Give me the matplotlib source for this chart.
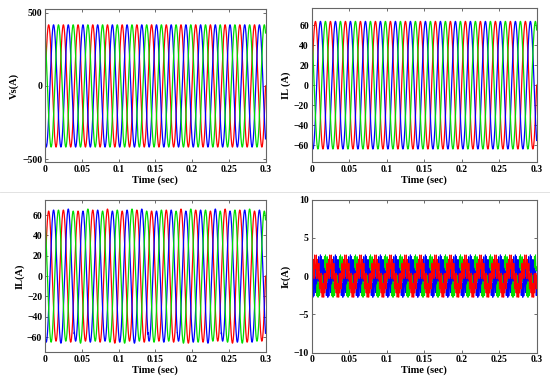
import numpy as np
import matplotlib
matplotlib.use("Agg")
import matplotlib.pyplot as plt
from matplotlib.lines import Line2D

plt.rcParams['font.family'] = ['Liberation Serif', 'DejaVu Serif']
plt.rcParams['font.weight'] = 'bold'

# signal data
freq = 50.0                      # Hz, 15 cycles in 0.3 s
t_end = 0.3
phase_deg = [0, -120, 120]       # red, blue, green order of phases
colors = ['#ff0000', '#0000ff', '#00dd00']

vs_amp = [418, 418, 418]
il_amp = [64, 64, 64]
# per-cycle peaks of the lower load current (15 cycles)
il2_peaks = [
    [64, 65, 64, 65, 66, 64, 65, 64, 65, 66, 65, 64, 66, 65, 64],
    [65, 66, 64, 65, 64, 65, 66, 64, 65, 64, 65, 66, 64, 65, 65],
    [65, 64, 66, 64, 65, 66, 64, 65, 64, 66, 65, 64, 65, 66, 64],
]
ic_fund = [1.5, 1.5, 1.5]        # fundamental of compensating current
ic_ripple_a = [0.9, 0.9, 0.9]    # switching ripple, first component
ic_ripple_b = [0.7, 0.7, 0.7]    # switching ripple, second component
ripple_freq_a = 550.0
ripple_freq_b = 850.0

t = np.linspace(0, t_end, 12000)
w = 2 * np.pi * freq


def phase_wave(amp, k):
    return amp * np.sin(w * t + np.deg2rad(phase_deg[k]))


def style(ax, ylim, yticks, ylabel):
    ax.set_xlim(0, t_end)
    ax.set_ylim(*ylim)
    ax.set_xticks([0, 0.05, 0.1, 0.15, 0.2, 0.25, 0.3])
    ax.set_xticklabels(['0', '0.05', '0.1', '0.15', '0.2', '0.25', '0.3'])
    ax.set_yticks(yticks)
    ax.tick_params(direction='in', length=2.5, width=0.6, labelsize=7,
                   top=True, right=True, colors='#555555', labelcolor='black', pad=2)
    for s in ax.spines.values():
        s.set_color('#666666')
        s.set_linewidth(0.8)
    ax.set_xlabel('Time (sec)', fontsize=7.5, fontweight='bold', labelpad=1)
    ax.set_ylabel(ylabel, fontsize=7.5, fontweight='bold', labelpad=2)


fig = plt.figure(figsize=(5.5, 3.82), dpi=100)
ax1 = fig.add_axes([0.0818, 0.576, 0.401, 0.400])
ax2 = fig.add_axes([0.5667, 0.576, 0.409, 0.402])
ax3 = fig.add_axes([0.0818, 0.0777, 0.401, 0.399])
ax4 = fig.add_axes([0.5667, 0.0772, 0.409, 0.400])

cycle = np.minimum((t * freq).astype(int), 14)
for k in range(3):
    ax1.plot(t, phase_wave(vs_amp[k], k), color=colors[k], lw=0.9)
    ax2.plot(t, phase_wave(il_amp[k], k), color=colors[k], lw=0.9)
    amp = np.array(il2_peaks[k])[cycle]
    ax3.plot(t, phase_wave(amp, k), color=colors[k], lw=0.9)

for k in [2, 1, 0]:
    ph = np.deg2rad(phase_deg[k])
    fund = ic_fund[k] * np.sin(w * t + ph)
    rip = (ic_ripple_a[k] * np.sin(2 * np.pi * ripple_freq_a * t + 3 * ph)
           + ic_ripple_b[k] * np.sin(2 * np.pi * ripple_freq_b * t + 5 * ph))
    ax4.plot(t, fund + rip, color=colors[k], lw=0.7)

style(ax1, (-520, 525), [-500, 0, 500], 'Vs(A)')
style(ax2, (-77, 77), [-60, -40, -20, 0, 20, 40, 60], 'IL (A)')
style(ax3, (-75, 75), [-60, -40, -20, 0, 20, 40, 60], 'IL(A)')
style(ax4, (-10, 10), [-10, -5, 0, 5, 10], 'Ic(A)')

# faint separator between the two rows
fig.add_artist(Line2D([0, 1], [1 - 192 / 382, 1 - 192 / 382],
                      color='#dddddd', lw=0.6, transform=fig.transFigure))

fig.savefig('out.png', dpi=100)
